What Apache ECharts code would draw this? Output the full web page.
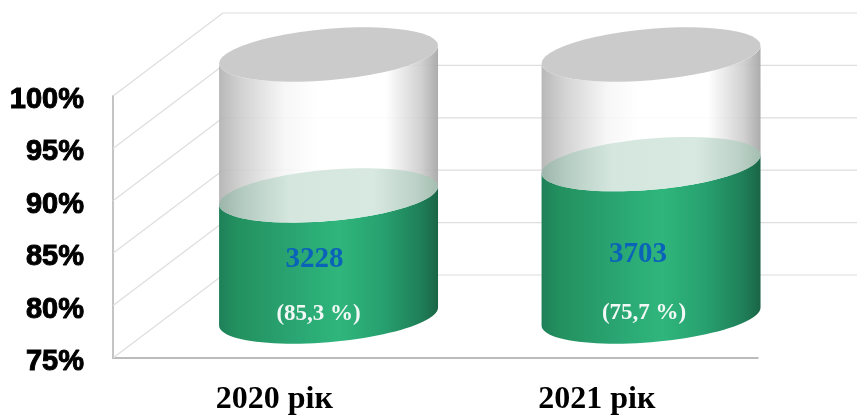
<!DOCTYPE html>
<html>
<head>
<meta charset="utf-8">
<style>html,body{margin:0;padding:0;background:#fff}#chart{width:857px;height:416px}</style>
<script src="https://cdn.jsdelivr.net/npm/echarts@6/dist/echarts.min.js"></script>
</head>
<body>
<div id="chart"></div>
<script>
// Chart data
const categories = ['2020 рік', '2021 рік'];
const counts = [3228, 3703];
const shares = [85.3, 75.7];
const percentTicks = [75, 80, 85, 90, 95, 100];

// Range of the hidden axis that scales the liquid level inside each cylinder
const countAxisMin = 1388;
const countAxisMax = 5369;

// Pseudo-3D projection of the chart box, in pixels
const DEPTH_X = 110;
const DEPTH_Y = 83;
const CYLINDER_SHIFT_X = 54.3;
const ELLIPSE_SKEW = 9;
const ELLIPSE_MINOR = 25.7;
const BAND_FILL = 0.679;
const ARC_STEPS = 48;

// Label nudges relative to the cylinder axis
const countLabelNudge = [[-14, 4], [-13, 14]];
const shareLabelNudge = [[-10, -2], [-7, -3]];

const hGrad = (stops) => new echarts.graphic.LinearGradient(0, 0, 1, 0,
  stops.map(([offset, color]) => ({ offset, color })));

const greenFill = () => hGrad([
  [0, '#1f8059'], [0.08, '#23905f'], [0.35, '#2aa673'], [0.55, '#2fb67c'],
  [0.75, '#27a06f'], [0.92, '#1f7f58'], [1, '#1a6546']
]);
const glassFill = () => hGrad([
  [0, 'rgba(178,178,178,0.92)'], [0.1, 'rgba(205,205,205,0.9)'], [0.3, 'rgba(246,246,246,0.9)'],
  [0.45, 'rgba(255,255,255,0.92)'], [0.76, 'rgba(255,255,255,0.92)'],
  [0.92, 'rgba(205,205,205,0.9)'], [1, 'rgba(165,165,165,0.92)']
]);
const surfaceFill = () => hGrad([
  [0, '#9cb5aa'], [0.12, '#b6cdc3'], [0.32, '#d4e6de'], [0.7, '#d8e9e2'],
  [0.9, '#bcd1c7'], [1, '#a4bdb1']
]);

// Point on a sheared ellipse; t runs from the right edge through the front at PI/2
const ellipsePoint = (cx, cy, hw, t) => [
  cx + hw * Math.cos(t),
  cy - ELLIPSE_SKEW * Math.cos(t) + ELLIPSE_MINOR * Math.sin(t)
];
const arc = (cx, cy, hw, from, to) => {
  const pts = [];
  for (let i = 0; i <= ARC_STEPS; i++) {
    pts.push(ellipsePoint(cx, cy, hw, from + (to - from) * i / ARC_STEPS));
  }
  return pts;
};
const fullEllipse = (cx, cy, hw) => arc(cx, cy, hw, 0, Math.PI * 2);

// Back wall lines and the floor diagonals, taken from the percent axis
function renderWall(params, api) {
  const value = api.value(0);
  const rect = params.coordSys;
  const [x0, y0] = [rect.x, api.coord([0, value])[1]];
  const lineStyle = { stroke: '#dedede', lineWidth: 1.2, fill: null };
  return {
    type: 'group',
    children: [
      { type: 'line', shape: { x1: x0, y1: y0, x2: x0 + DEPTH_X, y2: y0 - DEPTH_Y }, style: lineStyle },
      { type: 'line', shape: { x1: x0 + DEPTH_X, y1: y0 - DEPTH_Y, x2: x0 + rect.width + DEPTH_X, y2: y0 - DEPTH_Y }, style: lineStyle }
    ]
  };
}

// One cylinder: glass shell, liquid body, liquid surface, lid and the two labels
function renderCylinder(params, api) {
  const idx = api.value(0);
  const hw = api.size([1, 0])[0] * BAND_FILL / 2;
  const cx = api.coord([idx, countAxisMin])[0] + CYLINDER_SHIFT_X;
  const shift = DEPTH_Y / 2;
  const baseY = api.coord([idx, countAxisMin])[1] - shift;
  const topY = api.coord([idx, countAxisMax])[1] - shift;
  const levelY = api.coord([idx, api.value(1)])[1] - shift;

  const glass = arc(cx, topY, hw, Math.PI, 0).concat(arc(cx, levelY, hw, 0, Math.PI));
  const liquid = arc(cx, levelY, hw, Math.PI, 0).concat(arc(cx, baseY, hw, 0, Math.PI));
  const countNudge = countLabelNudge[idx];
  const shareNudge = shareLabelNudge[idx];
  const shareText = '(' + String(shares[idx]).replace('.', ',') + ' %)';

  return {
    type: 'group',
    children: [
      { type: 'polygon', shape: { points: glass }, style: { fill: glassFill() } },
      { type: 'polygon', shape: { points: liquid }, style: { fill: greenFill() } },
      { type: 'polygon', shape: { points: fullEllipse(cx, levelY, hw) }, style: { fill: surfaceFill() } },
      { type: 'polygon', shape: { points: fullEllipse(cx, topY, hw) }, style: { fill: '#cbcbcb' } },
      {
        type: 'text',
        style: {
          x: cx + countNudge[0], y: (baseY + levelY) / 2 + countNudge[1],
          text: String(api.value(1)), fill: '#0a63b8',
          font: 'bold 29px "Liberation Serif"', textAlign: 'center', textVerticalAlign: 'middle'
        }
      },
      {
        type: 'text',
        style: {
          x: cx + shareNudge[0], y: baseY + shareNudge[1],
          text: shareText, fill: '#f2f8f5',
          font: 'bold 23px "Liberation Serif"', textAlign: 'center', textVerticalAlign: 'middle'
        }
      }
    ]
  };
}

const chart = echarts.init(document.getElementById('chart'), null, { renderer: 'canvas' });
chart.setOption({
  animation: false,
  backgroundColor: '#fff',
  grid: { left: 113, top: 96, width: 645, height: 264 },
  xAxis: {
    type: 'category',
    data: categories,
    axisTick: { show: false },
    axisLine: { lineStyle: { color: '#a6a6a6', width: 1.5 } },
    axisLabel: {
      color: '#000', margin: 26,
      fontFamily: 'Liberation Serif', fontWeight: 'bold', fontSize: 32
    }
  },
  yAxis: [
    {
      type: 'value', min: 75, max: 100, interval: 5,
      axisLine: { show: true, lineStyle: { color: '#c4c4c4', width: 2 } },
      axisTick: { show: false },
      splitLine: { show: false },
      axisLabel: {
        color: '#000', margin: 29, formatter: '{value}%',
        verticalAlign: 'top', lineHeight: 8,
        fontFamily: 'Liberation Sans', fontWeight: 'bold', fontSize: 29,
        textBorderColor: '#000', textBorderWidth: 1
      }
    },
    { type: 'value', min: countAxisMin, max: countAxisMax, show: false, splitLine: { show: false } }
  ],
  series: [
    {
      type: 'custom', name: 'wall', z: 1, silent: true, clip: false,
      yAxisIndex: 0,
      coordinateSystem: 'cartesian2d',
      encode: { y: 0 },
      data: percentTicks.map((v) => [v]),
      renderItem: renderWall
    },
    {
      type: 'custom', name: 'cylinders', z: 3, silent: true, clip: false,
      yAxisIndex: 1,
      coordinateSystem: 'cartesian2d',
      encode: { x: 0, y: 1 },
      data: counts.map((v, i) => [i, v]),
      renderItem: renderCylinder
    }
  ]
});
</script>
</body>
</html>
